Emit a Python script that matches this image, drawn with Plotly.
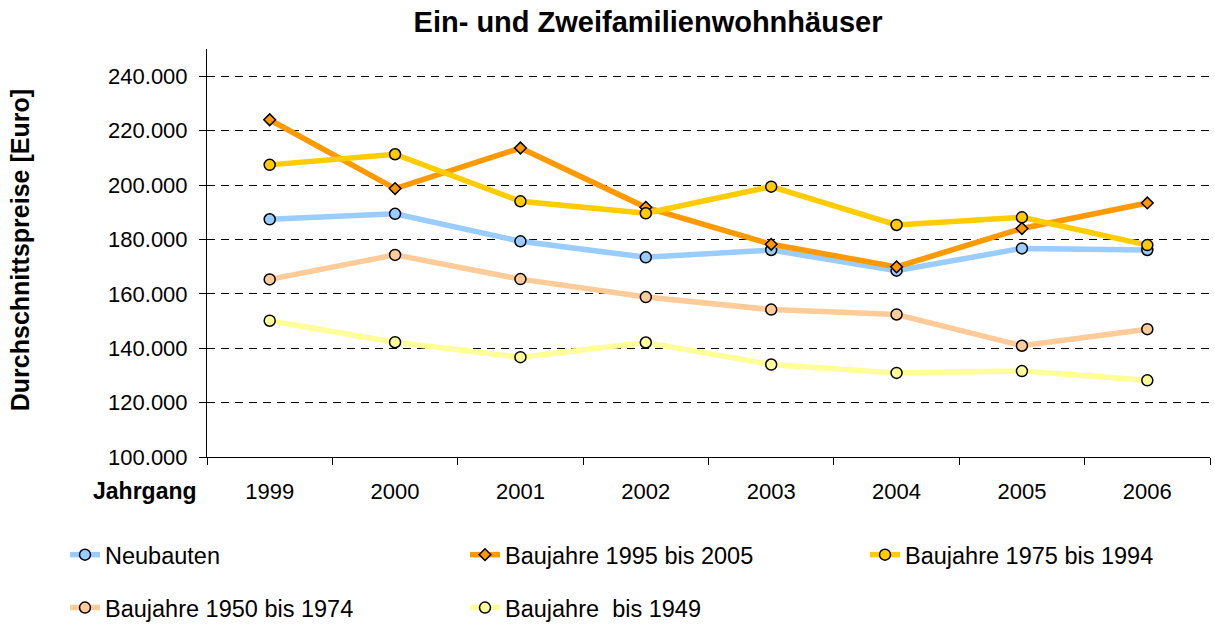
import plotly.graph_objects as go

# ---- data ----
jahre = ["1999", "2000", "2001", "2002", "2003", "2004", "2005", "2006"]
neubauten = [187400, 189400, 179300, 173400, 176100, 168500, 176700, 176100]
bj_1995_2005 = [224000, 198700, 213600, 191800, 178200, 169900, 184000, 193400]
bj_1975_1994 = [207400, 211300, 194000, 189600, 199400, 185300, 188100, 177900]
bj_1950_1974 = [165300, 174300, 165400, 158800, 154200, 152400, 140900, 147000]
bj_bis_1949 = [150100, 142200, 136700, 142100, 134000, 130900, 131600, 128200]

series_names = ["Neubauten", "Baujahre 1995 bis 2005", "Baujahre 1975 bis 1994",
                "Baujahre 1950 bis 1974", "Baujahre\u00a0 bis 1949"]
series_values = [neubauten, bj_1995_2005, bj_1975_1994, bj_1950_1974, bj_bis_1949]
colors = ["#99CCFF", "#FF9900", "#FFCC00", "#FFCC99", "#FFFF99"]
symbols = ["circle", "diamond", "circle", "circle", "circle"]
sizes = [11, 9, 11, 11, 11]
legends = ["legend", "legend", "legend", "legend2", "legend2"]

FONT = "Liberation Sans, Arial, sans-serif"

fig = go.Figure()
for name, vals, col, sym, sz, lg in zip(series_names, series_values, colors, symbols, sizes, legends):
    fig.add_trace(go.Scatter(
        x=jahre, y=vals, name=name, mode="lines+markers",
        line=dict(color=col, width=5.5),
        marker=dict(symbol=sym, size=sz, color=col, line=dict(color="black", width=1.5)),
        legend=lg,
    ))

LEG_X = (65 - 207) / 1003
fig.update_layout(
    width=1215, height=625,
    paper_bgcolor="white", plot_bgcolor="white",
    separators=",.",
    font=dict(family=FONT, size=22, color="black"),
    margin=dict(l=207, r=5, t=49, b=168, autoexpand=False),
    title=dict(text="Ein- und Zweifamilienwohnhäuser",
               font=dict(family=FONT, size=29, color="black", weight="bold"),
               x=648 / 1215, xref="container", xanchor="center",
               y=1 - 22 / 625, yref="container", yanchor="middle"),
    showlegend=True,
    legend=dict(orientation="h", x=LEG_X, xanchor="left", y=(457 - 555) / 408.5, yanchor="middle",
                entrywidth=355, entrywidthmode="pixels", font=dict(family=FONT, size=23.5),
                bgcolor="rgba(0,0,0,0)", traceorder="normal"),
    legend2=dict(orientation="h", x=LEG_X, xanchor="left", y=(457 - 608) / 408.5, yanchor="middle",
                 entrywidth=355, entrywidthmode="pixels", font=dict(family=FONT, size=23.5),
                 bgcolor="rgba(0,0,0,0)", traceorder="normal"),
)

fig.update_xaxes(
    type="category", range=[-0.5, 7.5],
    showline=True, linecolor="black", linewidth=1,
    ticks="outside", tickson="boundaries", ticklen=7, tickcolor="black", tickwidth=1,
    showgrid=False, zeroline=False,
    tickfont=dict(family=FONT, size=22, color="black"),
    ticklabelstandoff=15,
)
fig.update_yaxes(
    range=[100000, 250000], tick0=100000, dtick=20000, tickformat=",d",
    showline=True, linecolor="black", linewidth=1,
    ticks="outside", ticklen=7, tickcolor="black", tickwidth=1,
    showgrid=True, gridcolor="black", gridwidth=1, griddash="8px,6px",
    zeroline=False,
    tickfont=dict(family=FONT, size=22, color="black"),
    ticklabelstandoff=7,
)

fig.add_annotation(text="Durchschnittspreise [Euro]", textangle=-90,
                   xref="paper", yref="paper", x=(20 - 207) / 1003, y=(457 - 250) / 408.5,
                   xanchor="center", yanchor="middle", showarrow=False,
                   font=dict(family=FONT, size=25, color="black", weight="bold"))
fig.add_annotation(text="Jahrgang",
                   xref="paper", yref="paper", x=(199 - 207) / 1003, y=(457 - 491) / 408.5,
                   xanchor="right", yanchor="middle", showarrow=False,
                   font=dict(family=FONT, size=23, color="black", weight="bold"))

fig.write_html("out.html", config={"displayModeBar": False},
               post_script="document.body.style.margin='0';document.body.style.overflow='hidden';")
